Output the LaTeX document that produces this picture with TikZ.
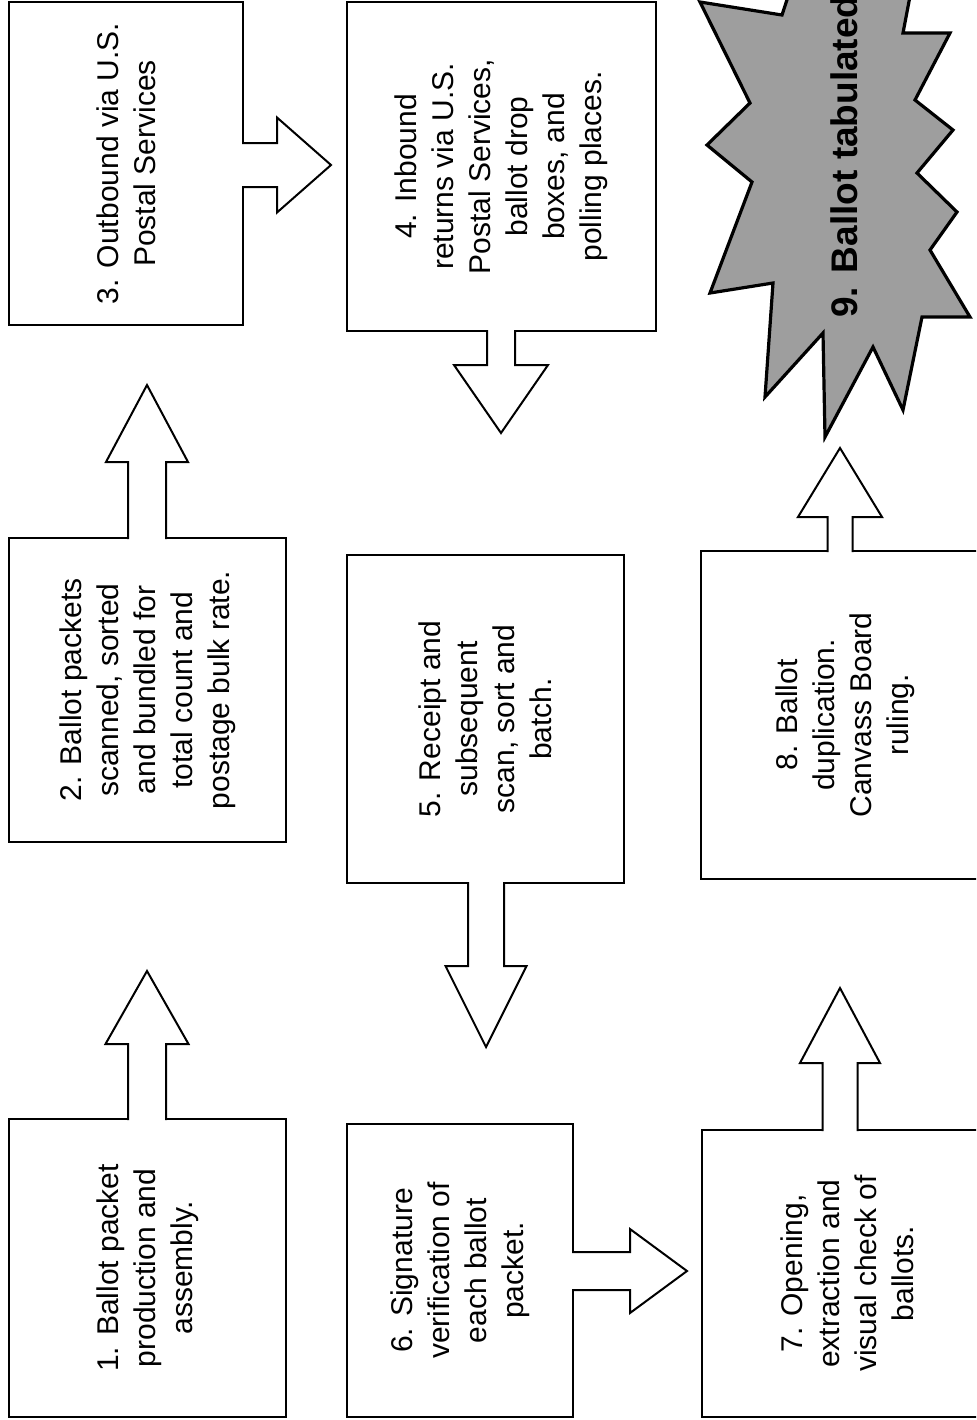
\documentclass[tikz,border=0pt]{standalone}
\usepackage{fontspec}
\setmainfont{Liberation Sans}
\usetikzlibrary{calc}
\tikzset{stepbox/.style={draw, line width=1pt, fill=white, rotate=90,
      align=center, inner sep=2pt, font=\fontsize{15}{18.5}\selectfont},
    flowarrow/.style={line width=1pt, fill=white, line join=miter},
    burst/.style={draw, line width=1.6pt, fill=black!38, line join=miter},
    burstlabel/.style={rotate=90, inner sep=0pt,
      font=\bfseries\fontsize{18.5}{21}\selectfont},
    }
% block arrow: from, tip, half shaft, half head, head length
\newcommand{\blockarrow}[5]{%
  \coordinate (ba-s) at ($(#1)!-1pt!(#2)$);
  \coordinate (ba-h) at ($(#2)!#5!(#1)$);
  \filldraw[flowarrow] ($(ba-s)!#3!90:(#2)$) -- ($(ba-h)!#3!90:(#2)$)
    -- ($(ba-h)!#4!90:(#2)$) -- (#2) -- ($(ba-h)!#4!-90:(#2)$)
    -- ($(ba-h)!#3!-90:(#2)$) -- ($(ba-s)!#3!-90:(#2)$);
}

\begin{document}
\begin{tikzpicture}[x=0.5pt, y=-0.5pt]
\useasboundingbox (0,0) rectangle (976,1420);
\clip (0,0) rectangle (976,1420);

% the starburst at the end
\draw[burst] (700,2) -- (750,103) -- (707,145) -- (752,182) -- (710,293)
  -- (773,283) -- (765,397) -- (823,333) -- (825,437) -- (873,347)
  -- (903,410) -- (922,317) -- (970,317) -- (930,250) -- (957,212)
  -- (917,173) -- (953,130) -- (915,100) -- (950,33) -- (903,33)
  -- (915,-30) -- (860,-10) -- (800,-40) -- (782,15) -- cycle;
\node[burstlabel, anchor=base west] (b9) at (857,318) {9. Ballot tabulated};

% steps, turned a quarter
\node[stepbox, minimum width=149pt, minimum height=138.5pt] (b1) at (147.5,1268)
  {1. Ballot packet\\production and\\assembly.};
\node[stepbox, minimum width=152pt, minimum height=138.5pt] (b2) at (147.5,690)
  {2. Ballot packets\\scanned, sorted\\and bundled for\\total count and\\postage bulk rate.};
\node[stepbox, minimum width=161.5pt, minimum height=117pt] (b3) at (126,163.5)
  {3. Outbound via U.S.\\Postal Services};
\node[stepbox, minimum width=164.5pt, minimum height=154.5pt] (b4) at (501.5,166.5)
  {4. Inbound\\returns via U.S.\\Postal Services,\\ballot drop\\boxes, and\\polling places.};
\node[stepbox, minimum width=164pt, minimum height=138.5pt] (b5) at (485.5,719)
  {5. Receipt and\\subsequent\\scan, sort and\\batch.};
\node[stepbox, minimum width=146.5pt, minimum height=113pt] (b6) at (460,1270.5)
  {6. Signature\\verification of\\each ballot\\packet.};
\node[stepbox, minimum width=143.5pt, minimum height=145pt] (b7) at (847,1273.5)
  {7. Opening,\\extraction and\\visual check of\\ballots.};
\node[stepbox, minimum width=164pt, minimum height=144.5pt] (b8) at (845.5,715)
  {8. Ballot\\duplication.\\Canvass Board\\ruling.};

% arrow tips
\coordinate (t1) at (147,971);
\coordinate (t2) at (147,385);
\coordinate (t3) at (331,165);
\coordinate (t4) at (501,433);
\coordinate (t5) at (486,1047);
\coordinate (t6) at (687,1271);
\coordinate (t7) at (840,988);
\coordinate (t8) at (840,448);

\blockarrow{t1 |- b1.east}{t1}{9.5pt}{20.75pt}{36.5pt}
\blockarrow{t2 |- b2.east}{t2}{9.5pt}{20.5pt}{38.5pt}
\blockarrow{b3.south |- t3}{t3}{11pt}{23.75pt}{27pt}
\blockarrow{t4 |- b4.west}{t4}{7pt}{23.5pt}{34pt}
\blockarrow{t5 |- b5.west}{t5}{9pt}{20.25pt}{40.5pt}
\blockarrow{b6.south |- t6}{t6}{9.5pt}{21pt}{28.5pt}
\blockarrow{t7 |- b7.east}{t7}{8.75pt}{20pt}{37.5pt}
\blockarrow{t8 |- b8.east}{t8}{6.25pt}{21pt}{34.5pt}
\end{tikzpicture}
\end{document}
